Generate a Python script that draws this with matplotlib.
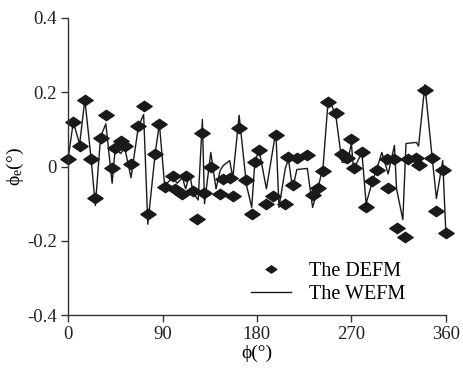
import matplotlib
matplotlib.use("Agg")
import matplotlib.pyplot as plt
import numpy as np
from matplotlib.path import Path

# DEFM (diamonds)
phi_defm = [0, 5, 11, 16, 22, 26, 31, 36, 42, 45, 50, 54, 60, 67, 72, 76, 83, 87, 92,
            100, 102, 109, 112, 119, 123, 128, 130, 136, 145, 148, 154, 157, 163, 170,
            175, 178, 182, 189, 195, 198, 207, 210, 214, 218, 228, 233, 238, 243, 248,
            255, 261, 266, 270, 272, 280, 284, 290, 294, 304, 305, 311, 313, 321, 324,
            332, 334, 340, 347, 351, 357, 360]
err_defm = [0.02, 0.12, 0.054, 0.18, 0.02, -0.085, 0.078, 0.14, -0.005, 0.05, 0.068, 0.054,
            0.007, 0.108, 0.162, -0.127, 0.035, 0.115, -0.054, -0.025, -0.06, -0.073,
            -0.025, -0.065, -0.14, 0.09, -0.07, -0.002, -0.073, -0.033, -0.03, -0.08,
            0.103, -0.035, -0.127, 0.013, 0.045, -0.1, -0.078, 0.086, -0.1, 0.027, -0.05,
            0.022, 0.032, -0.076, -0.057, -0.013, 0.175, 0.143, 0.035, 0.022, 0.073,
            -0.003, 0.038, -0.11, -0.04, -0.008, 0.019, -0.057, 0.019, -0.165, -0.19,
            0.019, 0.024, 0.003, 0.205, 0.022, -0.12, -0.008, -0.18]

# WEFM (line)
phi_wefm = [0, 5, 11, 16, 22, 26, 31, 36, 42, 45, 50, 54, 60, 67, 72, 76, 83, 87, 92,
            100, 104, 109, 112, 116, 119, 124, 128, 130, 136, 141, 145, 148, 154, 157,
            163, 170, 175, 178, 182, 189, 198, 201, 207, 210, 214, 218, 228, 233, 238,
            243, 248, 255, 261, 266, 270, 272, 276, 280, 284, 290, 294, 299, 305, 311,
            313, 319, 322, 332, 334, 340, 347, 351, 357, 360]
err_wefm = [0.02, 0.12, 0.06, 0.18, 0.02, -0.105, 0.08, 0.115, -0.045, 0.05, 0.035, 0.05,
            -0.03, 0.108, 0.14, -0.155, 0.035, 0.115, -0.05, -0.03, -0.045, -0.03, -0.06,
            -0.02, -0.07, -0.09, 0.127, -0.1, 0.038, -0.06, -0.01, 0.003, 0.016, -0.03,
            0.138, -0.05, -0.11, 0.013, 0.045, -0.06, 0.095, -0.11, -0.005, 0.02, -0.06,
            -0.008, -0.005, -0.11, -0.06, 0.0, 0.185, 0.14, 0.012, 0.01, 0.062, -0.01,
            0.015, 0.038, -0.1, -0.04, -0.008, 0.038, -0.02, 0.057, -0.06, -0.143, 0.062,
            0.065, 0.055, 0.22, 0.022, -0.086, 0.016, -0.18]

x_ticks = [0, 90, 180, 270, 360]
y_ticks = [-0.4, -0.2, 0, 0.2, 0.4]
y_ticklabels = ["-0.4", "-0.2", "0", "0.2", "0.4"]

plt.rcParams['font.family'] = ['Liberation Serif', 'DejaVu Serif']
plt.rcParams['mathtext.fontset'] = 'custom'
plt.rcParams['mathtext.rm'] = 'Liberation Serif'
plt.rcParams['mathtext.it'] = 'Liberation Serif'

ink = '#1a1a1a'
diamond = Path([(-1, 0), (0, 0.68), (1, 0), (0, -0.68), (-1, 0)],
               [Path.MOVETO, Path.LINETO, Path.LINETO, Path.LINETO, Path.CLOSEPOLY])

fig = plt.figure(figsize=(4.63, 3.73), dpi=100)
ax = fig.add_axes([0.147, 0.155, 0.816, 0.797])

ax.plot(phi_wefm, err_wefm, color=ink, linewidth=1.0, label='The WEFM', clip_on=False)
ax.plot(phi_defm, err_defm, linestyle='none', marker=diamond, markersize=11,
        color=ink, label='The DEFM', clip_on=False)

ax.set_xlim(0, 360)
ax.set_ylim(-0.4, 0.4)
ax.set_xticks(x_ticks)
ax.set_xticklabels([str(t) for t in x_ticks])
ax.set_yticks(y_ticks)
ax.set_yticklabels(y_ticklabels)
ax.spines['top'].set_visible(False)
ax.spines['right'].set_visible(False)
for s in ['left', 'bottom']:
    ax.spines[s].set_linewidth(1.0)
    ax.spines[s].set_color('#333333')
ax.tick_params(direction='out', length=5, width=1.0, labelsize=13.5, colors='#333333',
               labelcolor='#222222', pad=3)

ax.set_xlabel('ϕ(°)', fontsize=14, labelpad=1)
ax.set_ylabel(r'ϕ$_\mathrm{e}$(°)', fontsize=14)
ax.yaxis.set_label_coords(-0.112, 0.5)

handles, labels = ax.get_legend_handles_labels()
leg = ax.legend(handles[::-1], labels[::-1], loc='lower left', bbox_to_anchor=(0.447, -0.01),
                frameon=False, fontsize=14.5, handlelength=2.0, handletextpad=0.9,
                borderpad=0.2, labelspacing=0.2, markerscale=0.7)

fig.savefig('out.png', dpi=100)
